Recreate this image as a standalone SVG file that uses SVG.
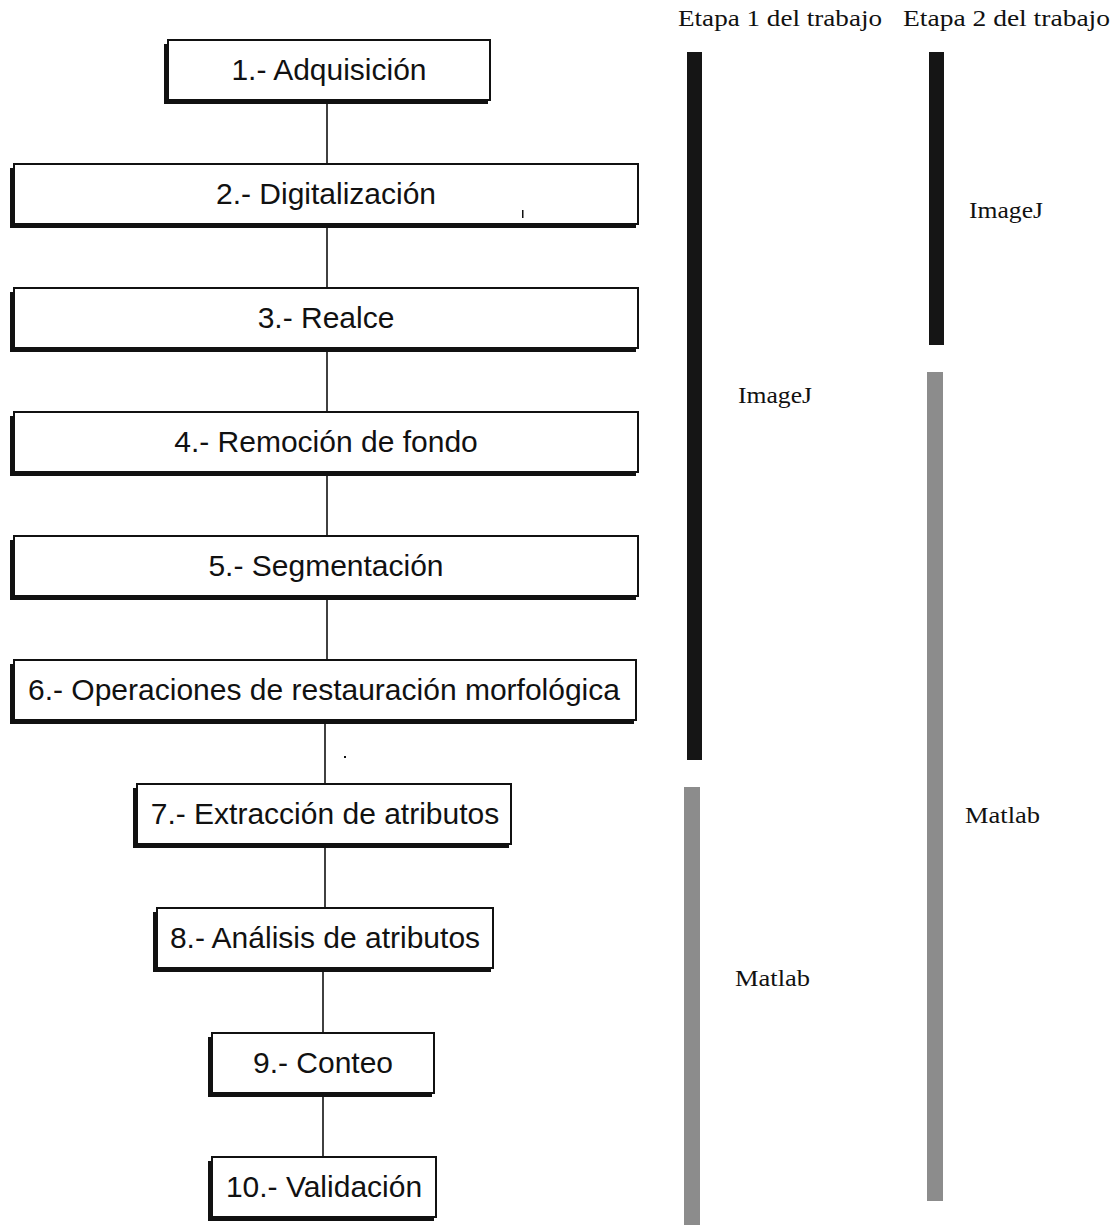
<svg xmlns="http://www.w3.org/2000/svg" width="1114" height="1225" viewBox="0 0 1114 1225">
<style>
.shadow{fill:#111}
.box{fill:#fff;stroke:#111;stroke-width:2}
.lbl{font-family:"Liberation Sans",Arial,sans-serif;font-size:30px;fill:#111;text-anchor:middle}
.conn{stroke:#111;stroke-width:1.6;fill:none}
.hdr{font-family:"Liberation Serif","Times New Roman",serif;font-size:23px;fill:#111}
.tool{font-family:"Liberation Serif","Times New Roman",serif;font-size:24px;fill:#111}
.dark{fill:#151515}
.gray{fill:#8c8c8c}
</style>
<rect width="1114" height="1225" fill="#fff"/>
<g id="connectors">
<line class="conn" x1="327" y1="100" x2="327" y2="164"/>
<line class="conn" x1="327" y1="224" x2="327" y2="288"/>
<line class="conn" x1="327" y1="348" x2="327" y2="412"/>
<line class="conn" x1="327" y1="472" x2="327" y2="536"/>
<line class="conn" x1="327" y1="596" x2="327" y2="660"/>
<line class="conn" x1="325" y1="720" x2="325" y2="784"/>
<line class="conn" x1="325" y1="844" x2="325" y2="908"/>
<line class="conn" x1="323" y1="968" x2="323" y2="1033"/>
<line class="conn" x1="323" y1="1093" x2="323" y2="1157"/>
</g>
<g id="node1"><rect class="shadow" x="164" y="44" width="324" height="60"/><rect class="box" x="168" y="40" width="322" height="60"/><text class="lbl" x="329" y="80">1.- Adquisición</text></g>
<g id="node2"><rect class="shadow" x="10" y="168" width="626" height="60"/><rect class="box" x="14" y="164" width="624" height="60"/><text class="lbl" x="326" y="204">2.- Digitalización</text><rect x="522" y="210" width="1.5" height="8" fill="#111"/></g>
<g id="node3"><rect class="shadow" x="10" y="292" width="626" height="60"/><rect class="box" x="14" y="288" width="624" height="60"/><text class="lbl" x="326" y="328">3.- Realce</text></g>
<g id="node4"><rect class="shadow" x="10" y="416" width="626" height="60"/><rect class="box" x="14" y="412" width="624" height="60"/><text class="lbl" x="326" y="452">4.- Remoción de fondo</text></g>
<g id="node5"><rect class="shadow" x="10" y="540" width="626" height="60"/><rect class="box" x="14" y="536" width="624" height="60"/><text class="lbl" x="326" y="576">5.- Segmentación</text></g>
<g id="node6"><rect class="shadow" x="10" y="664" width="624" height="60"/><rect class="box" x="14" y="660" width="622" height="60"/><text class="lbl" x="324" y="700">6.- Operaciones de restauración morfológica</text></g>
<rect x="344" y="756" width="2" height="2" fill="#111"/>
<g id="node7"><rect class="shadow" x="133" y="788" width="376" height="60"/><rect class="box" x="137" y="784" width="374" height="60"/><text class="lbl" x="325" y="824">7.- Extracción de atributos</text></g>
<g id="node8"><rect class="shadow" x="153" y="912" width="338" height="60"/><rect class="box" x="157" y="908" width="336" height="60"/><text class="lbl" x="325" y="948">8.- Análisis de atributos</text></g>
<g id="node9"><rect class="shadow" x="208" y="1037" width="224" height="60"/><rect class="box" x="212" y="1033" width="222" height="60"/><text class="lbl" x="323" y="1073">9.- Conteo</text></g>
<g id="node10"><rect class="shadow" x="208" y="1161" width="226" height="60"/><rect class="box" x="212" y="1157" width="224" height="60"/><text class="lbl" x="324" y="1197">10.- Validación</text></g>
<g id="stages">
<text class="hdr" x="678" y="26" textLength="204" lengthAdjust="spacingAndGlyphs">Etapa 1 del trabajo</text>
<text class="hdr" x="903" y="26" textLength="207" lengthAdjust="spacingAndGlyphs">Etapa 2 del trabajo</text>
<rect class="dark" x="687" y="52" width="15" height="708"/>
<rect class="gray" x="684" y="787" width="16" height="438"/>
<rect class="dark" x="929" y="52" width="15" height="293"/>
<rect class="gray" x="927" y="372" width="16" height="829"/>
<text class="tool" x="738" y="403" textLength="74" lengthAdjust="spacingAndGlyphs">ImageJ</text>
<text class="tool" x="735" y="986" textLength="75" lengthAdjust="spacingAndGlyphs">Matlab</text>
<text class="tool" x="969" y="218" textLength="74" lengthAdjust="spacingAndGlyphs">ImageJ</text>
<text class="tool" x="965" y="823" textLength="75" lengthAdjust="spacingAndGlyphs">Matlab</text>
</g>
</svg>
